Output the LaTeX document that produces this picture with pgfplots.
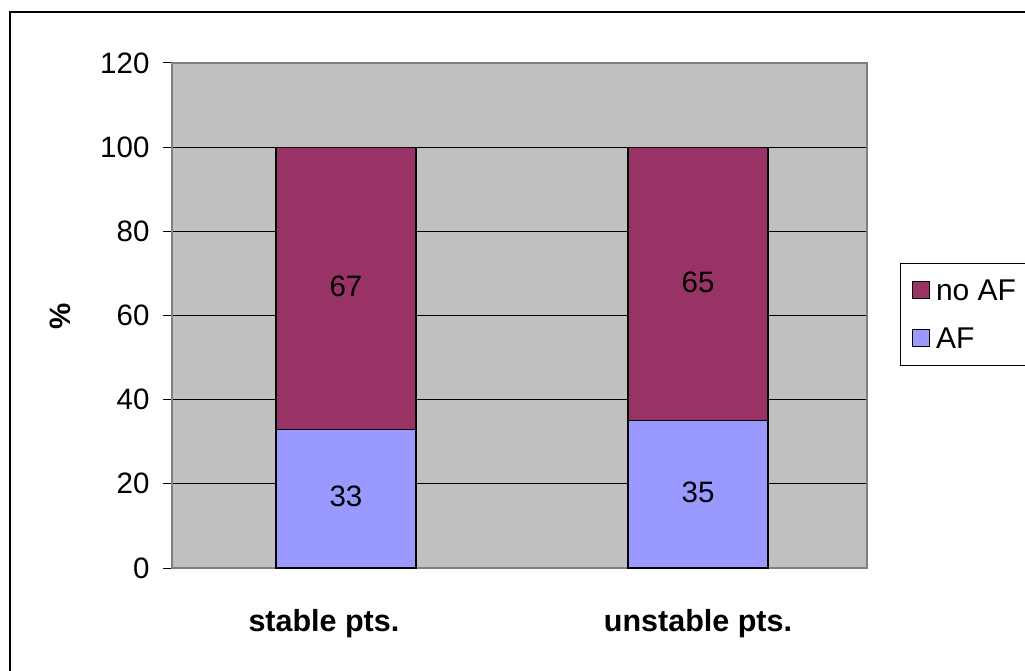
\documentclass[border=0pt]{standalone}
\usepackage{pgfplots}
\pgfplotsset{compat=1.18}
\usepackage{pgfplotstable}
\usepackage{fontspec}
\setmainfont{Liberation Sans}

\definecolor{noaf}{HTML}{993366}
\definecolor{af}{HTML}{9999FF}
\definecolor{plotbg}{HTML}{C0C0C0}
\definecolor{frame}{HTML}{808080}

% share of patients (%) with and without AF
\pgfplotstableread{
x  af  noaf
0  33  67
1  35  65
}\afdata

\begin{document}
\begin{tikzpicture}
\useasboundingbox (-172pt,-102pt) rectangle (853pt,568pt);
% chart frame
\draw[line width=1.5pt] (-162pt,-130pt) -- (-162pt,556pt) -- (880pt,556pt);
\begin{axis}[
  scale only axis,
  width=695pt, height=505pt,
  xmin=-0.494, xmax=1.480,
  ymin=0, ymax=120,
  ytick={0,20,...,120},
  xtick={0,1},
  xticklabels={\hspace*{-44pt}stable pts., unstable pts.},
  font=\fontsize{29.5}{34}\selectfont,
  xticklabel style={font=\fontsize{30.5}{34}\selectfont\bfseries, anchor=center, yshift=-47pt},
  yticklabel style={anchor=east, xshift=-10pt},
  /pgf/number format/assume math mode=true,
  x tick style={draw=none},
  y tick style={black, line width=1pt},
  ytick pos=left,
  tick align=outside,
  major tick length=9pt,
  ymajorgrids,
  grid style={black, line width=1pt},
  axis background/.style={fill=plotbg},
  axis line style={frame, line width=2pt},
  ylabel={\bfseries\%},
  every axis y label/.style={at={(axis description cs:-0.161,0.499)}, rotate=90, anchor=center},
  legend cell align=left,
  legend style={at={(axis description cs:1.0475,0.604)}, anchor=north west,
    draw=black, line width=1pt, fill=white, font=\fontsize{30}{34}\selectfont,
    inner xsep=11pt, inner ysep=14pt, row sep=22pt,
    nodes={inner xsep=6pt}},
  clip=false,
]
% whole bar (AF + no AF) in the no-AF colour, AF part drawn over it
\addplot[ybar, bar width=140pt, bar shift=0pt, fill=noaf, draw=black, line width=1.2pt,
  forget plot] table[x=x, y expr=\thisrow{af}+\thisrow{noaf}] {\afdata};
\addplot[ybar, bar width=140pt, bar shift=0pt, fill=af, draw=black, line width=1.2pt,
  forget plot] table[x=x, y=af] {\afdata};
% value labels in the middle of each segment
\addplot[only marks, mark=none, forget plot, nodes near coords, point meta=explicit,
  every node near coord/.append style={anchor=center, yshift=2pt, font=\fontsize{29.5}{34}\selectfont}]
  table[x=x, y expr=\thisrow{af}/2, meta=af] {\afdata};
\addplot[only marks, mark=none, forget plot, nodes near coords, point meta=explicit,
  every node near coord/.append style={anchor=center, yshift=2pt, font=\fontsize{29.5}{34}\selectfont}]
  table[x=x, y expr=\thisrow{af}+\thisrow{noaf}/2, meta=noaf] {\afdata};
% legend
\addlegendimage{legend image code/.code={\draw[fill=noaf, draw=black, line width=1.5pt] (0pt,-8pt) rectangle (17pt,9pt);}}
\addlegendentry{no AF}
\addlegendimage{legend image code/.code={\draw[fill=af, draw=black, line width=1.5pt] (0pt,-8pt) rectangle (17pt,9pt);}}
\addlegendentry{AF}
\end{axis}
\end{tikzpicture}
\end{document}
